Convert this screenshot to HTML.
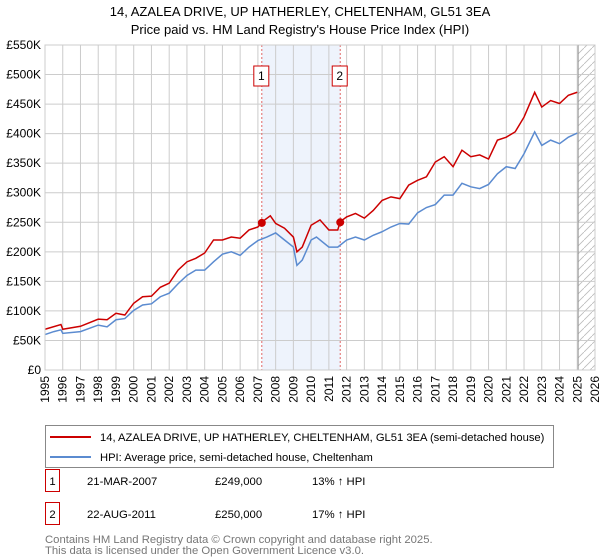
<!DOCTYPE html>
<html><head><meta charset="utf-8"><style>
body{margin:0;background:#fff;width:600px;height:560px;overflow:hidden;font-family:"Liberation Sans","DejaVu Sans",sans-serif}
svg{position:absolute;left:0;top:0}
</style></head><body>
<svg id="c" width="600" height="560"></svg>
<script>
const years=[1995,1995.5,1995.9,1996,1997,1998,1998.5,1999,1999.5,2000,2000.5,2001,2001.5,2002,2002.5,2003,2003.5,2004,2004.5,2005,2005.5,2006,2006.5,2007,2007.5,2008,2008.5,2009,2009.2,2009.5,2010,2010.3,2011,2011.5,2012,2012.5,2013,2013.5,2014,2014.5,2015,2015.5,2016,2016.5,2017,2017.5,2018,2018.5,2019,2019.5,2020,2020.5,2021,2021.5,2022,2022.6,2023,2023.5,2024,2024.5,2025];
const hpi=[60,65,68,62,65,76,73,85,87,101,110,112,124,130,146,160,169,169,183,196,200,194,208,219,225,232,220,208,177,186,220,225,208,208,220,225,220,228,234,242,248,247,266,275,280,296,296,316,310,307,314,332,344,341,366,403,380,389,383,394,401];
const redYears=[1995,1995.9,1996,1997,1998,1998.5,1999,1999.5,2000,2000.5,2001,2001.5,2002,2002.5,2003,2003.5,2004,2004.5,2005,2005.5,2006,2006.5,2007,2007.25,2007.7,2008,2008.5,2009,2009.2,2009.5,2010,2010.5,2011,2011.5,2011.64,2012,2012.5,2013,2013.5,2014,2014.5,2015,2015.5,2016,2016.5,2017,2017.5,2018,2018.5,2019,2019.5,2020,2020.5,2021,2021.5,2022,2022.6,2023,2023.5,2024,2024.5,2025];
const red=[69,77,69,74,86,85,96,93,113,124,125,140,147,169,183,189,198,220,220,225,223,237,242,251,261,248,240,225,200,208,245,254,237,237,251,259,265,257,270,287,293,290,313,321,327,352,361,344,372,361,364,357,389,394,403,428,470,445,456,451,465,470];
const yTicks=[0,50,100,150,200,250,300,350,400,450,500,550];
const yTickLabels=["£0","£50K","£100K","£150K","£200K","£250K","£300K","£350K","£400K","£450K","£500K","£550K"];
const sales=[{n:"1",t:2007.22,v:249},{n:"2",t:2011.64,v:250}];
const X0=45,X1=595,Y0=370,Y1=45;
const xs=t=>X0+(t-1995)*(X1-X0)/31;
const ys=v=>Y0-v*(Y0-Y1)/550;
const svg=document.getElementById('c');
const NS='http://www.w3.org/2000/svg';
function mk(tag,attrs,parent){const e=document.createElementNS(NS,tag);for(const k in attrs)e.setAttribute(k,attrs[k]);(parent||svg).appendChild(e);return e;}
let t;
t=mk('text',{x:300,y:16,'text-anchor':'middle','font-size':13,fill:'#000'});t.textContent='14, AZALEA DRIVE, UP HATHERLEY, CHELTENHAM, GL51 3EA';


t=mk('text',{x:300,y:34,'text-anchor':'middle','font-size':13,fill:'#000'});t.textContent="Price paid vs. HM Land Registry's House Price Index (HPI)";


let r=mk('rect',{x:xs(sales[0].t),y:Y1,width:xs(sales[1].t)-xs(sales[0].t),height:Y0-Y1,fill:'#eef3fc'});


const defs=mk('defs',{});
const pat=mk('pattern',{id:'h',patternUnits:'userSpaceOnUse',width:8,height:8},defs);
mk('path',{d:'M0,8 L8,0',stroke:'#bbb','stroke-width':0.8},pat);
r=mk('rect',{x:xs(2025.05),y:Y1,width:X1-xs(2025.05),height:Y0-Y1,fill:'url(#h)'});


for(let i=0;i<yTicks.length;i++){
 const y=ys(yTicks[i]);
 let l=mk('line',{x1:X0,x2:X1,y1:y,y2:y,stroke:'#ccc','stroke-width':1});
 
 
 let tx=mk('text',{x:X0-4,y:y+4,'text-anchor':'end','font-size':12,fill:'#000'});tx.textContent=yTickLabels[i];
 
 
}
for(let yr=1995;yr<=2026;yr++){
 const x=xs(yr);
 let l=mk('line',{x1:x,x2:x,y1:Y1,y2:Y0,stroke:'#ccc','stroke-width':1});
 
 
 let tx=mk('text',{x:0,y:0,'text-anchor':'end','font-size':12,fill:'#000',transform:`translate(${x+4},${Y0+6}) rotate(-90)`});tx.textContent=yr;
 
 
}
let l=mk('line',{x1:xs(2025.05),x2:xs(2025.05),y1:Y1,y2:Y0,stroke:'#999','stroke-width':1});


sales.forEach(s=>{
 let d=mk('line',{x1:xs(s.t),x2:xs(s.t),y1:Y1,y2:Y0,stroke:'#e06666','stroke-width':1,'stroke-dasharray':'2,2'});
 
 
 let b=mk('rect',{x:xs(s.t)-8,y:66,width:15,height:20,fill:'#fff',stroke:'#c00','stroke-width':1});
 
 
 let tx=mk('text',{x:xs(s.t)-0.5,y:80,'text-anchor':'middle','font-size':12,fill:'#000'});tx.textContent=s.n;
 
 
});
let p=mk('polyline',{points:years.map((y,i)=>xs(y)+','+ys(hpi[i])).join(' '),fill:'none',stroke:'#5b8bd0','stroke-width':1.5});


p=mk('polyline',{points:redYears.map((y,i)=>xs(y)+','+ys(red[i])).join(' '),fill:'none',stroke:'#cc0000','stroke-width':1.5});


sales.forEach(s=>{
 let c=mk('circle',{cx:xs(s.t),cy:ys(s.v),r:4,fill:'#cc0000'});
 
 
});
r=mk('rect',{x:X0,y:Y1,width:X1-X0,height:Y0-Y1,fill:'none',stroke:'#ccc'});


const lg=mk('g',{});


mk('rect',{x:45.5,y:425.5,width:508,height:42,fill:'#fff',stroke:'#888'},lg);
mk('line',{x1:50,x2:91,y1:437,y2:437,stroke:'#cc0000','stroke-width':2},lg);
mk('line',{x1:50,x2:91,y1:457,y2:457,stroke:'#5b8bd0','stroke-width':2},lg);
t=mk('text',{x:100,y:441,'font-size':11.2,fill:'#000'},lg);t.textContent='14, AZALEA DRIVE, UP HATHERLEY, CHELTENHAM, GL51 3EA (semi-detached house)';


t=mk('text',{x:100,y:461,'font-size':11.2,fill:'#000'},lg);t.textContent='HPI: Average price, semi-detached house, Cheltenham';


const rows=[["1","21-MAR-2007","£249,000","13% ↑ HPI",481],["2","22-AUG-2011","£250,000","17% ↑ HPI",514]];
rows.forEach(rw=>{
 let b=mk('rect',{x:45.5,y:rw[4]-11.5,width:14,height:22,fill:'#fff',stroke:'#c00'});
 
 
 [[52.5,rw[0],'middle'],[87,rw[1],'start'],[215,rw[2],'start'],[312,rw[3],'start']].forEach(c=>{
  let tx=mk('text',{x:c[0],y:rw[4]+4,'font-size':11.3,fill:'#000','text-anchor':c[2]});tx.textContent=c[1];
  
  
 });
});
t=mk('text',{x:45,y:543,'font-size':11.3,fill:'#777'});t.textContent='Contains HM Land Registry data © Crown copyright and database right 2025.';


t=mk('text',{x:45,y:554,'font-size':11.3,fill:'#777'});t.textContent='This data is licensed under the Open Government Licence v3.0.';


</script>
</body></html>
